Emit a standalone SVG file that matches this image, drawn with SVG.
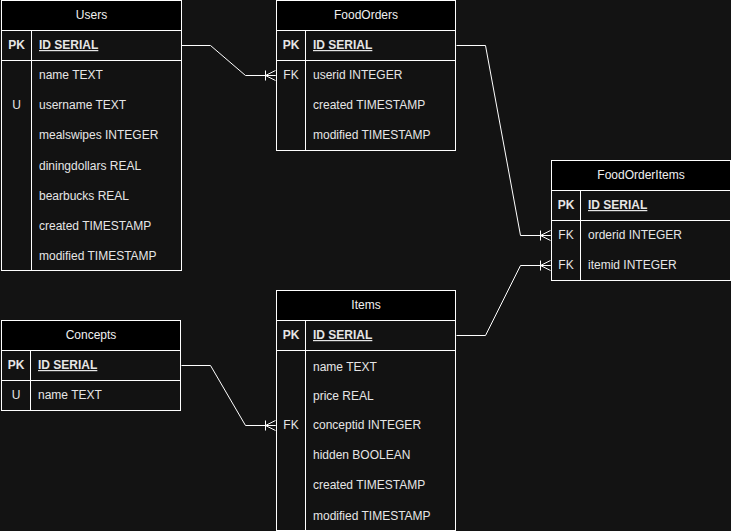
<svg xmlns="http://www.w3.org/2000/svg" width="731" height="531" viewBox="0 0 731 531">
  <style>
    .tbl { fill: #121212; stroke: #ffffff; stroke-width: 1; }
    .hdr { fill: #000000; stroke: #ffffff; stroke-width: 1; }
    .ln { stroke: #ffffff; stroke-width: 1; fill: none; }
    text { font-family: "Liberation Sans", Arial, sans-serif; font-size: 12px; fill: #e6e6e6; }
    .title { text-anchor: middle; fill: #f0f0f0; }
    .key { text-anchor: middle; }
    .pk { font-weight: bold; }
    .pkf { font-weight: bold; text-decoration: underline; }
    .edge { stroke: #ffffff; stroke-width: 1; fill: none; }
  </style>
  <defs>
    <!-- one-to-many (mandatory) crow's foot, drawn at the child end -->
    <marker id="manyEnd" markerUnits="userSpaceOnUse" markerWidth="14" markerHeight="14" viewBox="-12 -7 14 14" refX="0" refY="0" orient="auto" overflow="visible">
      <path d="M-10,0 L0,-5 M-10,0 L0,5 M-10,0 L0,0 M-10,-5 L-10,5" stroke="#ffffff" stroke-width="1" fill="none"/>
    </marker>
  </defs>
  <rect width="731" height="531" fill="#131313"/>

  <g id="connectors">
    <path class="edge" d="M181.5,45.5 L210.5,45.5 L245.5,75.5 L275.5,75.5" marker-end="url(#manyEnd)"/>
    <path class="edge" d="M456.5,45.5 L485.5,45.5 L520.5,235.5 L550.5,235.5" marker-end="url(#manyEnd)"/>
    <path class="edge" d="M456.5,335.5 L485.5,335.5 L520.5,265.5 L550.5,265.5" marker-end="url(#manyEnd)"/>
    <path class="edge" d="M181.5,365.5 L210.5,365.5 L245.5,425.5 L275.5,425.5" marker-end="url(#manyEnd)"/>
  </g>

  <g id="users">
    <rect class="tbl" x="1.5" y="0.5" width="180" height="270"/>
    <rect class="hdr" x="1.5" y="0.5" width="180" height="30"/>
    <line class="ln" x1="1.5" y1="60.5" x2="181.5" y2="60.5"/>
    <line class="ln" x1="31.5" y1="30.5" x2="31.5" y2="270.5"/>
    <text class="title" x="91.5" y="19">Users</text>
    <text class="key pk" x="16.5" y="49">PK</text>
    <text class="pkf" x="39" y="49">ID SERIAL</text>
    <text x="39" y="79">name TEXT</text>
    <text class="key" x="16.5" y="109">U</text>
    <text x="39" y="109">username TEXT</text>
    <text x="39" y="139">mealswipes INTEGER</text>
    <text x="39" y="169.5">diningdollars REAL</text>
    <text x="39" y="199.5">bearbucks REAL</text>
    <text x="39" y="229.5">created TIMESTAMP</text>
    <text x="39" y="259.5">modified TIMESTAMP</text>
  </g>

  <g id="foodorders">
    <rect class="tbl" x="276.5" y="0.5" width="179" height="150"/>
    <rect class="hdr" x="276.5" y="0.5" width="179" height="30"/>
    <line class="ln" x1="276.5" y1="60.5" x2="455.5" y2="60.5"/>
    <line class="ln" x1="305.5" y1="30.5" x2="305.5" y2="150.5"/>
    <text class="title" x="366" y="19">FoodOrders</text>
    <text class="key pk" x="291" y="49">PK</text>
    <text class="pkf" x="313" y="49">ID SERIAL</text>
    <text class="key" x="291" y="79">FK</text>
    <text x="313" y="79">userid INTEGER</text>
    <text x="313" y="109">created TIMESTAMP</text>
    <text x="313" y="139">modified TIMESTAMP</text>
  </g>

  <g id="foodorderitems">
    <rect class="tbl" x="551.5" y="160.5" width="179" height="120"/>
    <rect class="hdr" x="551.5" y="160.5" width="179" height="30"/>
    <line class="ln" x1="551.5" y1="220.5" x2="730.5" y2="220.5"/>
    <line class="ln" x1="580.5" y1="190.5" x2="580.5" y2="280.5"/>
    <text class="title" x="641" y="179">FoodOrderItems</text>
    <text class="key pk" x="566" y="209">PK</text>
    <text class="pkf" x="588" y="209">ID SERIAL</text>
    <text class="key" x="566" y="239">FK</text>
    <text x="588" y="239">orderid INTEGER</text>
    <text class="key" x="566" y="269">FK</text>
    <text x="588" y="269">itemid INTEGER</text>
  </g>

  <g id="concepts">
    <rect class="tbl" x="1.5" y="320.5" width="179" height="90"/>
    <rect class="hdr" x="1.5" y="320.5" width="179" height="30"/>
    <line class="ln" x1="1.5" y1="380.5" x2="180.5" y2="380.5"/>
    <line class="ln" x1="30.5" y1="350.5" x2="30.5" y2="410.5"/>
    <text class="title" x="91" y="339">Concepts</text>
    <text class="key pk" x="16" y="369">PK</text>
    <text class="pkf" x="38" y="369">ID SERIAL</text>
    <text class="key" x="16" y="399">U</text>
    <text x="38" y="399">name TEXT</text>
  </g>

  <g id="items">
    <rect class="tbl" x="276.5" y="290.5" width="179" height="240"/>
    <rect class="hdr" x="276.5" y="290.5" width="179" height="30"/>
    <line class="ln" x1="276.5" y1="350.5" x2="455.5" y2="350.5"/>
    <line class="ln" x1="305.5" y1="320.5" x2="305.5" y2="530.5"/>
    <text class="title" x="366" y="309">Items</text>
    <text class="key pk" x="291" y="339">PK</text>
    <text class="pkf" x="313" y="339">ID SERIAL</text>
    <text x="313" y="370.5">name TEXT</text>
    <text x="313" y="399.5">price REAL</text>
    <text class="key" x="291" y="429">FK</text>
    <text x="313" y="429">conceptid INTEGER</text>
    <text x="313" y="459">hidden BOOLEAN</text>
    <text x="313" y="489">created TIMESTAMP</text>
    <text x="313" y="519.5">modified TIMESTAMP</text>
  </g>
</svg>
